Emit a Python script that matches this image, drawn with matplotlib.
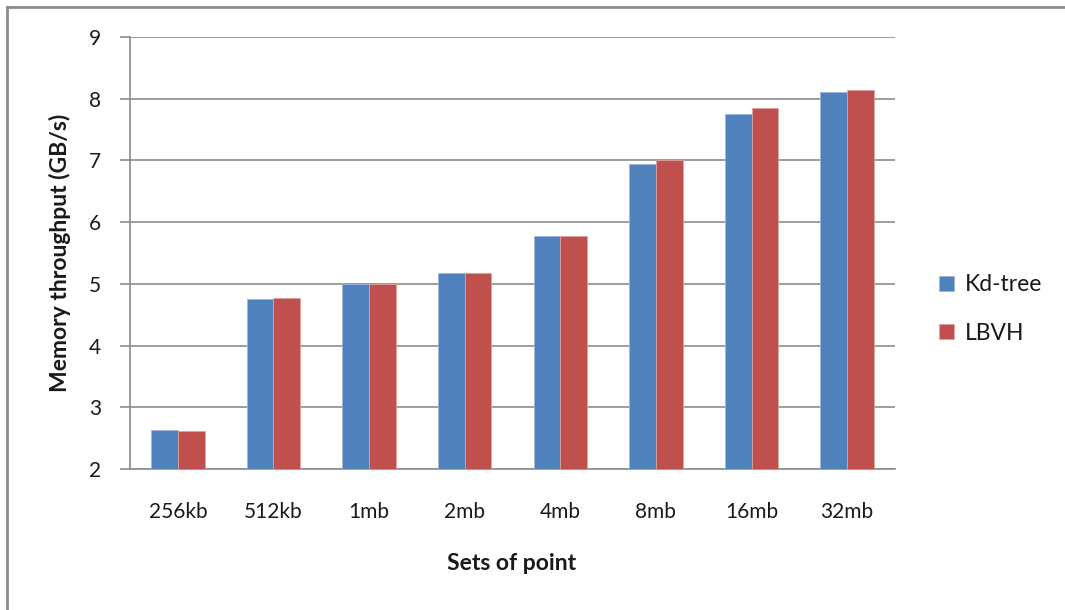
import matplotlib
matplotlib.use("Agg")
import matplotlib.pyplot as plt
from matplotlib.lines import Line2D
import numpy as np

categories = ["256kb", "512kb", "1mb", "2mb", "4mb", "8mb", "16mb", "32mb"]
kd_tree = [2.63, 4.75, 5.00, 5.17, 5.77, 6.95, 7.76, 8.11]
lbvh = [2.61, 4.77, 5.00, 5.17, 5.77, 7.01, 7.85, 8.14]
series_names = ["Kd-tree", "LBVH"]
y_ticks = [2, 3, 4, 5, 6, 7, 8, 9]

plt.rcParams["font.family"] = ["Lato", "DejaVu Sans"]

W, H = 1065, 610
fig = plt.figure(figsize=(W / 100, H / 100), dpi=100)
ax = fig.add_axes([130 / W, 1 - 469 / H, (895 - 130) / W, (469 - 37) / H])

x = np.arange(len(categories))
bw = 0.28
blue = "#4F81BD"
red = "#C0504D"
b1 = ax.bar(x - bw / 2, np.array(kd_tree) - 2, bw, bottom=2, color=blue,
            edgecolor="#9DB6DA", linewidth=0.6, zorder=3, label=series_names[0])
b2 = ax.bar(x + bw / 2, np.array(lbvh) - 2, bw, bottom=2, color=red,
            edgecolor="#E0A09E", linewidth=0.6, zorder=3, label=series_names[1])

ax.set_xlim(-0.5, len(categories) - 0.5)
ax.set_ylim(2, 9)
ax.set_yticks(y_ticks)
ax.set_yticklabels([str(v) for v in y_ticks], fontsize=15, color="#1a1a1a")
ax.set_xticks(x)
ax.set_xticklabels(categories, fontsize=15, color="#1a1a1a")
ax.tick_params(axis="x", length=0, pad=24)
ax.tick_params(axis="y", length=7, width=1.2, color="#8c8c8c", pad=14)

ax.yaxis.grid(True, color="#8c8c8c", linewidth=1.2, zorder=0)
ax.set_axisbelow(True)
for s in ["top", "right"]:
    ax.spines[s].set_visible(False)
for s in ["left", "bottom"]:
    ax.spines[s].set_color("#8c8c8c")
    ax.spines[s].set_linewidth(1.2)

fig.text(60 / W, 1 - 253 / H, "Memory throughput (GB/s)", rotation=90,
         ha="center", va="center", fontsize=16.5, fontweight="bold", color="#1a1a1a")
fig.text(512 / W, 1 - 564 / H, "Sets of point", ha="center", va="center",
         fontsize=16.5, fontweight="bold", color="#1a1a1a")

leg = fig.legend(handles=[b1, b2], labels=series_names, loc="center left",
                 bbox_to_anchor=(928 / W, 1 - 309 / H), frameon=False,
                 fontsize=16.5, handlelength=0.65, handleheight=0.65,
                 labelspacing=1.2, handletextpad=0.45, borderpad=0)
for t in leg.get_texts():
    t.set_color("#1a1a1a")

# outer chart frame
fig.add_artist(Line2D([7 / W, 1], [1 - 7 / H, 1 - 7 / H], color="#8c8c8c", linewidth=2))
fig.add_artist(Line2D([7 / W, 7 / W], [0, 1 - 7 / H], color="#8c8c8c", linewidth=2))

fig.savefig("out.png", dpi=100, facecolor="white")
